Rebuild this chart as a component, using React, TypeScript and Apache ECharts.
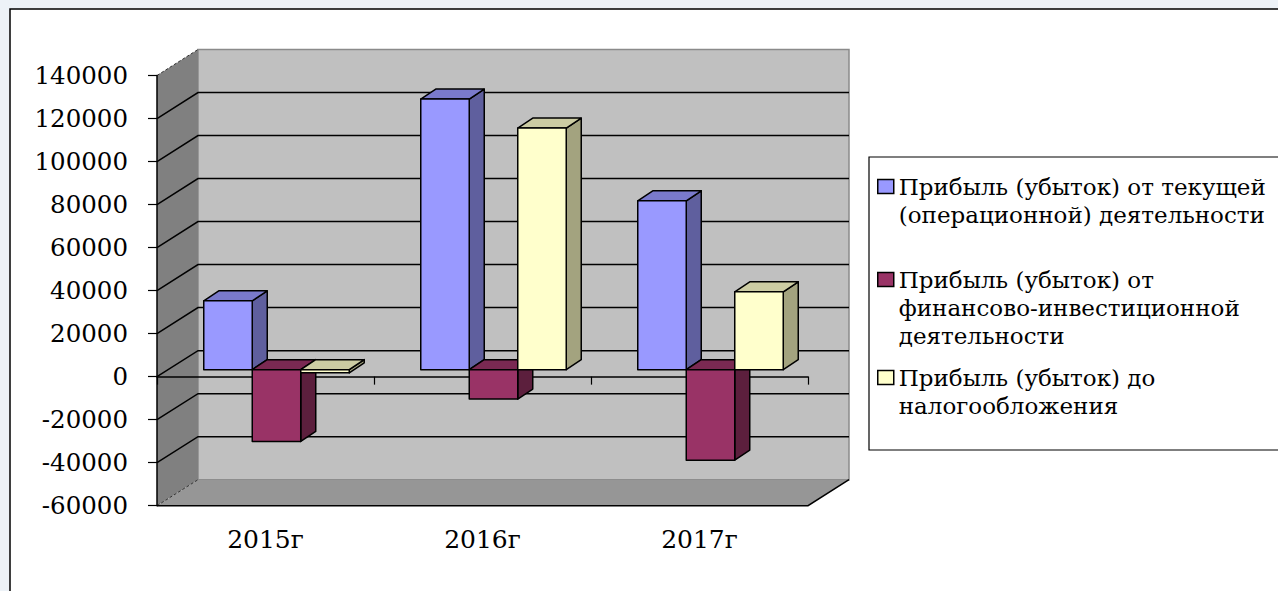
import React, { useEffect, useRef } from 'react';
import * as echarts from 'echarts';

// ---- data ----
const CATEGORIES = ['2015г', '2016г', '2017г'];
const SERIES_NAMES = [
  'Прибыль (убыток) от текущей (операционной) деятельности',
  'Прибыль (убыток) от финансово-инвестиционной деятельности',
  'Прибыль (убыток) до налогообложения',
];
const LEGEND_LABELS = [
  'Прибыль (убыток) от текущей\n(операционной) деятельности',
  'Прибыль (убыток) от\nфинансово-инвестиционной\nдеятельности',
  'Прибыль (убыток) до\nналогообложения',
];
const OPERATING = [32000, 125800, 78500];
const FINANCIAL = [-33400, -13700, -42100];
const PRETAX = [-1500, 112300, 36200];
const Y_MIN = -60000;
const Y_MAX = 140000;
const Y_STEP = 20000;
const Y_TICKS = [-60000, -40000, -20000, 0, 20000, 40000, 60000, 80000, 100000, 120000, 140000];

// ---- styling ----
const FONT = 'DejaVu Serif';
const FACE_COLORS = [
  { front: '#9999FF', top: '#7A7ACC', side: '#5F5F9E' },
  { front: '#993366', top: '#7A2952', side: '#5C1F3D' },
  { front: '#FFFFCC', top: '#CCCCA3', side: '#A3A37F' },
];
const DX = 41; // wall depth
const DY = -26;
const FX = 11; // bar front face depth offset
const FY = -7;
const BDX = 15; // bar depth
const BDY = -10;
const BAR_FRAC = 0.2235;
const LH = 28;
const ICON_CENTERS = [186.5, 279.5, 377.5];

export default function App() {
  const ref = useRef<HTMLDivElement>(null);

  useEffect(() => {
    if (!ref.current) return;
    const chart = echarts.init(ref.current, undefined, { renderer: 'svg' });

    const wallSeries: any = {
      type: 'custom',
      z: 1,
      silent: true,
      data: [[0, 0]],
      renderItem: (params: any, api: any) => {
        const cs = params.coordSys;
        const L = cs.x, R = cs.x + cs.width, T = cs.y, B = cs.y + cs.height;
        const children: any[] = [];
        children.push({
          type: 'polygon',
          shape: { points: [[L + DX, T + DY], [R + DX, T + DY], [R + DX, B + DY], [L + DX, B + DY]] },
          style: { fill: '#C0C0C0', stroke: '#8a8a8a', lineWidth: 1.5 },
        });
        children.push({
          type: 'polygon',
          shape: { points: [[L, T], [L + DX, T + DY], [L + DX, B + DY], [L, B]] },
          style: { fill: '#808080' },
        });
        children.push({
          type: 'polygon',
          shape: { points: [[L, B], [R, B], [R + DX, B + DY], [L + DX, B + DY]] },
          style: { fill: '#969696' },
        });
        Y_TICKS.forEach((v) => {
          if (v === Y_MIN || v === Y_MAX) return;
          const y = api.coord([0, v])[1];
          children.push({
            type: 'polyline',
            shape: { points: [[L, y], [L + DX, y + DY], [R + DX, y + DY]] },
            style: { stroke: '#000', lineWidth: 1.5, fill: null },
          });
        });
        children.push({
          type: 'line',
          shape: { x1: L, y1: T, x2: L + DX, y2: T + DY },
          style: { stroke: '#333', lineWidth: 1, lineDash: [3, 2] },
        });
        children.push({
          type: 'line',
          shape: { x1: L, y1: B, x2: L + DX, y2: B + DY },
          style: { stroke: '#333', lineWidth: 1, lineDash: [3, 2] },
        });
        children.push({
          type: 'polyline',
          shape: { points: [[L, B], [R, B], [R + DX, B + DY]] },
          style: { stroke: '#000', lineWidth: 1.5, fill: null },
        });
        return { type: 'group', children };
      },
    };

    const makeBarSeries = (idx: number, values: number[]) => ({
      type: 'custom',
      name: SERIES_NAMES[idx],
      z: 3,
      itemStyle: { color: FACE_COLORS[idx].front },
      data: values.map((v, k) => [k, v]),
      renderItem: (params: any, api: any) => {
        const ci = api.value(0);
        const v = api.value(1);
        const p0 = api.coord([ci, 0]);
        const p1 = api.coord([ci, v]);
        const band = api.size([1, 0])[0];
        const bw = band * BAR_FRAC;
        const xl = p0[0] - 1.5 * bw + idx * bw + FX;
        const xr = xl + bw;
        const yT = Math.min(p0[1], p1[1]) + FY;
        const yB = Math.max(p0[1], p1[1]) + FY;
        const c = FACE_COLORS[idx];
        const stroke = { stroke: '#000', lineWidth: 1.5, lineJoin: 'round' };
        return {
          type: 'group',
          children: [
            {
              type: 'polygon',
              shape: { points: [[xr, yT], [xr + BDX, yT + BDY], [xr + BDX, yB + BDY], [xr, yB]] },
              style: { fill: c.side, ...stroke },
            },
            {
              type: 'polygon',
              shape: { points: [[xl, yT], [xr, yT], [xr + BDX, yT + BDY], [xl + BDX, yT + BDY]] },
              style: { fill: c.top, ...stroke },
            },
            {
              type: 'rect',
              shape: { x: xl, y: yT, width: bw, height: yB - yT },
              style: { fill: c.front, ...stroke },
            },
          ],
        };
      },
    });

    const legends = LEGEND_LABELS.map((lab, i) => {
      const lines = lab.split('\n').length;
      // leading blank lines keep the first text line level with the icon
      const text = '\n'.repeat(lines - 1) + lab;
      return {
        left: 877,
        top: ICON_CENTERS[i] - ((2 * lines - 1) * LH) / 2,
        padding: 0,
        orient: 'vertical',
        selectedMode: false,
        itemWidth: 16,
        itemHeight: 14,
        icon: 'rect',
        data: [
          {
            name: SERIES_NAMES[i],
            itemStyle: { color: FACE_COLORS[i].front, borderColor: '#000', borderWidth: 1.5 },
          },
        ],
        formatter: () => text,
        textStyle: {
          fontFamily: FONT,
          fontSize: 23,
          color: '#000',
          lineHeight: LH,
        },
      };
    });

    chart.setOption({
      animation: false,
      backgroundColor: 'transparent',
      graphic: [
        {
          type: 'rect',
          shape: { x: 10, y: 9, width: 1300, height: 620 },
          style: { fill: '#fff', stroke: '#000', lineWidth: 1.5 },
        },
        {
          type: 'rect',
          shape: { x: 869, y: 157, width: 430, height: 293 },
          style: { fill: '#fff', stroke: '#000', lineWidth: 1.2 },
        },
      ],
      grid: { left: 157, top: 75.5, width: 651, height: 430.2, containLabel: false },
      legend: legends,
      xAxis: [
        {
          type: 'category',
          data: CATEGORIES,
          position: 'bottom',
          z: 2,
          axisLine: { show: false, onZero: false },
          axisTick: { show: false },
          axisLabel: { margin: 21, fontFamily: FONT, fontSize: 25, color: '#000' },
        },
        {
          type: 'category',
          data: CATEGORIES,
          position: 'bottom',
          z: 2,
          axisLine: { show: true, onZero: true, lineStyle: { color: '#000', width: 1.5 } },
          axisTick: { show: true, length: 8, lineStyle: { color: '#000', width: 1.2 } },
          axisLabel: { show: false },
        },
      ],
      yAxis: {
        type: 'value',
        min: Y_MIN,
        max: Y_MAX,
        interval: Y_STEP,
        z: 2,
        axisLine: { show: true, lineStyle: { color: '#000', width: 1.5 } },
        axisTick: { show: true, length: 9, lineStyle: { color: '#000', width: 1.2 } },
        splitLine: { show: false },
        axisLabel: {
          margin: 29,
          fontFamily: FONT,
          fontSize: 24.5,
          color: '#000',
          formatter: (v: number) => String(v),
        },
      },
      series: [
        wallSeries,
        makeBarSeries(0, OPERATING),
        makeBarSeries(1, FINANCIAL),
        makeBarSeries(2, PRETAX),
      ],
    });

    return () => chart.dispose();
  }, []);

  return (
    <div
      ref={ref}
      style={{ position: 'fixed', left: 0, top: 0, width: 1278, height: 591, background: '#EDF2F7' }}
    />
  );
}
